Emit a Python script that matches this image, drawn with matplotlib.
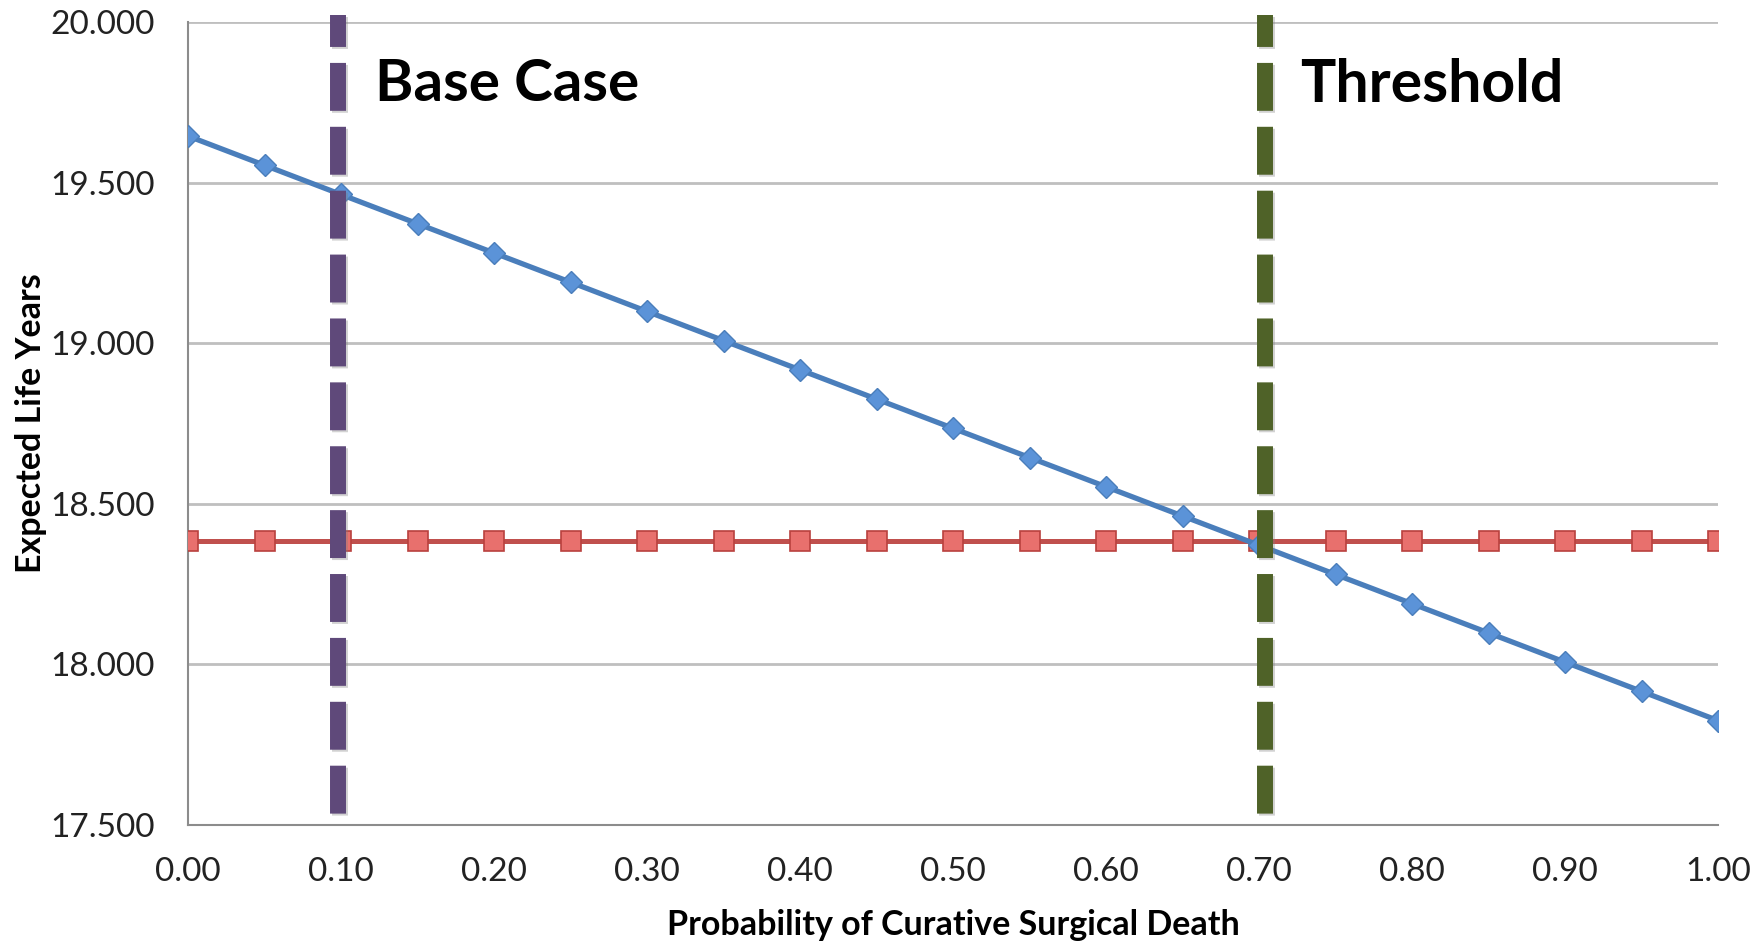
import numpy as np
import matplotlib
matplotlib.use("Agg")
import matplotlib.pyplot as plt
import matplotlib.patheffects as pe

plt.rcParams['font.family'] = ['Lato', 'DejaVu Sans']

# probability of curative surgical death
prob = [0.00, 0.05, 0.10, 0.15, 0.20, 0.25, 0.30, 0.35, 0.40, 0.45, 0.50,
        0.55, 0.60, 0.65, 0.70, 0.75, 0.80, 0.85, 0.90, 0.95, 1.00]
# expected life years - surgery arm
surgery = [19.645, 19.554, 19.463, 19.372, 19.281, 19.190, 19.099, 19.008,
           18.917, 18.826, 18.735, 18.644, 18.553, 18.462, 18.371, 18.280,
           18.189, 18.098, 18.007, 17.916, 17.825]
# expected life years - alternative arm (flat)
alternative = [18.385] * len(prob)

# where the marker lines sit in the picture
base_case = 0.098
threshold = 0.704

x_ticks = [0.0, 0.1, 0.2, 0.3, 0.4, 0.5, 0.6, 0.7, 0.8, 0.9, 1.0]
y_ticks = [17.5, 18.0, 18.5, 19.0, 19.5, 20.0]

fig = plt.figure(figsize=(17.54, 9.41), dpi=100)
ax = fig.add_axes([0.1072, 0.1233, 0.8723, 0.8533])

ax.plot(prob, alternative, color='#C0504D', lw=3.6, marker='s', ms=14,
        mfc='#E8706D', mec='#B9413E', mew=1.2, zorder=3)
ax.plot(prob, surgery, color='#4A7EBB', lw=3.8, marker='D', ms=11.5,
        mfc='#5B93D8', mec='#4A7EBB', mew=1.0, zorder=4)

# vertical reference lines, drawn on top like the original
shadow = [pe.SimpleLineShadow(offset=(1.5, -1.5), shadow_color='#808080', alpha=0.35), pe.Normal()]
for xv, col in [(base_case, '#5F497A'), (threshold, '#4F6228')]:
    ax.plot([xv, xv], [20.022, 17.52], color=col, lw=11.5, linestyle=(1, (3, 1)),
            dash_capstyle='butt', solid_capstyle='butt', clip_on=False, zorder=6,
            path_effects=shadow)

ax.text(0.122, 19.805, 'Base Case', fontsize=42, fontweight='bold', va='center', ha='left')
ax.text(0.727, 19.805, 'Threshold', fontsize=42.5, fontweight='bold', va='center', ha='left')

ax.set_xlim(0, 1)
ax.set_ylim(17.5, 20)
ax.set_xticks(x_ticks)
ax.set_yticks(y_ticks)
ax.set_xticklabels(['%.2f' % v for v in x_ticks])
ax.set_yticklabels(['%.3f' % v for v in y_ticks])
ax.tick_params(length=0, labelsize=24, colors='#222222')
ax.tick_params(axis='x', pad=23)
ax.tick_params(axis='y', pad=24)

ax.grid(axis='y', color='#BFBFBF', lw=2)
ax.set_axisbelow(True)
for s in ['top', 'right']:
    ax.spines[s].set_visible(False)
for s in ['left', 'bottom']:
    ax.spines[s].set_color('#8C8C8C')
    ax.spines[s].set_linewidth(1.5)

ax.set_xlabel('Probability of Curative Surgical Death', fontsize=24.5, fontweight='bold', labelpad=16)
ax.set_ylabel('Expected Life Years', fontsize=24.5, fontweight='bold', labelpad=2)

fig.savefig('out.png', dpi=100)
